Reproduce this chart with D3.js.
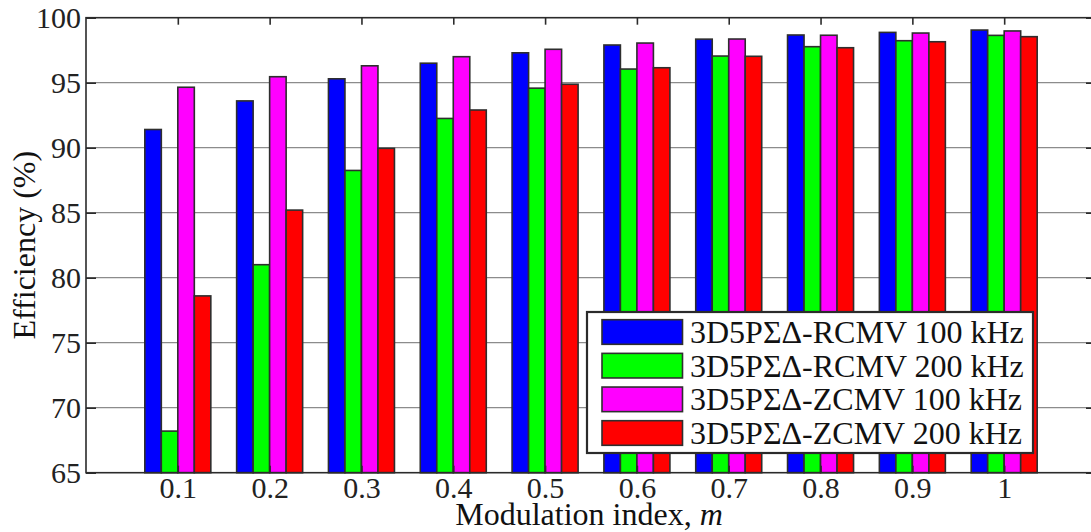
<!DOCTYPE html>
<html>
<head>
<meta charset="utf-8">
<script src="https://cdn.jsdelivr.net/npm/d3@7/dist/d3.min.js"></script>
<style>
  html, body { margin: 0; padding: 0; background: #fff; }
</style>
</head>
<body>
<svg id="chart" width="1091" height="532"></svg>
<script>
// Modulation index values (x categories)
const modIndex = [0.1, 0.2, 0.3, 0.4, 0.5, 0.6, 0.7, 0.8, 0.9, 1];
const xTickLabels = ["0.1", "0.2", "0.3", "0.4", "0.5", "0.6", "0.7", "0.8", "0.9", "1"];
const yTicks = [65, 70, 75, 80, 85, 90, 95, 100];

// Efficiency (%) for each configuration
const seriesNames = [
  "3D5PΣΔ-RCMV 100 kHz",
  "3D5PΣΔ-RCMV 200 kHz",
  "3D5PΣΔ-ZCMV 100 kHz",
  "3D5PΣΔ-ZCMV 200 kHz"
];
const rcmv100 = [91.4, 93.6, 95.3, 96.5, 97.3, 97.9, 98.35, 98.67, 98.87, 99.05];
const rcmv200 = [68.2, 81.0, 88.25, 92.25, 94.58, 96.05, 97.05, 97.77, 98.23, 98.64];
const zcmv100 = [94.65, 95.46, 96.3, 97.0, 97.57, 98.05, 98.36, 98.65, 98.82, 98.98];
const zcmv200 = [78.6, 85.2, 89.95, 92.9, 94.88, 96.15, 97.03, 97.69, 98.15, 98.54];
const seriesValues = [rcmv100, rcmv200, zcmv100, zcmv200];
const seriesColors = ["#0000ff", "#00ff00", "#ff00ff", "#ff0000"];

const svg = d3.select("#chart");
const plotLeft = 86, plotRight = 1096, plotTop = 17.7, plotBottom = 472.7;
const axisColor = "#2b2b2b";
const serif = "'Liberation Serif', 'Times New Roman', Times, serif";

const x = d3.scaleLinear().domain([0, 1.1]).range([plotLeft, plotRight]);
const y = d3.scaleLinear().domain([65, 100]).range([plotBottom, plotTop]);

const barW = 16.5;

// horizontal grid lines
svg.append("g")
  .selectAll("line")
  .data(yTicks.slice(1, -1))
  .join("line")
  .attr("x1", plotLeft).attr("x2", plotRight)
  .attr("y1", d => y(d)).attr("y2", d => y(d))
  .attr("stroke", "#8c8c8c").attr("stroke-width", 1.3);

// bars, four per modulation index
const bars = svg.append("g");
seriesValues.forEach((vals, s) => {
  bars.append("g")
    .selectAll("rect")
    .data(vals)
    .join("rect")
    .attr("x", (d, i) => x(modIndex[i]) + (s - 2) * barW)
    .attr("y", d => y(d))
    .attr("width", barW)
    .attr("height", d => y(65) - y(d))
    .attr("fill", seriesColors[s])
    .attr("stroke", "#2e2e2e")
    .attr("stroke-width", 1.6);
});

// frame
svg.append("rect")
  .attr("x", plotLeft).attr("y", plotTop)
  .attr("width", plotRight - plotLeft).attr("height", plotBottom - plotTop)
  .attr("fill", "none").attr("stroke", axisColor).attr("stroke-width", 1.6);

// y axis (left), ticks pointing inward
const yAxisL = d3.axisLeft(y).tickValues(yTicks).tickSizeInner(-10).tickSizeOuter(0).tickPadding(5);
const gy = svg.append("g").attr("transform", `translate(${plotLeft},0)`).call(yAxisL);
gy.select(".domain").remove();
gy.selectAll(".tick line").attr("stroke", axisColor).attr("stroke-width", 1.6);
gy.selectAll(".tick text").attr("fill", "#222")
  .style("font-family", serif).style("font-size", "30px");

// y ticks on the right side
const yAxisR = d3.axisRight(y).tickValues(yTicks).tickSizeInner(-10).tickSizeOuter(0).tickFormat("");
const gyr = svg.append("g").attr("transform", `translate(${plotRight},0)`).call(yAxisR);
gyr.select(".domain").remove();
gyr.selectAll(".tick line").attr("stroke", axisColor).attr("stroke-width", 1.6);

// x axis (bottom) labels
const xAxisB = d3.axisBottom(x).tickValues(modIndex)
  .tickFormat((d, i) => xTickLabels[i]).tickSizeInner(-7).tickSizeOuter(0).tickPadding(3.5);
const gx = svg.append("g").attr("transform", `translate(0,${plotBottom})`).call(xAxisB);
gx.select(".domain").remove();
gx.selectAll(".tick line").attr("stroke", axisColor).attr("stroke-width", 1.6);
gx.selectAll(".tick text").attr("fill", "#222")
  .style("font-family", serif).style("font-size", "30px");

// x ticks along the top edge
const xAxisT = d3.axisTop(x).tickValues(modIndex).tickSizeInner(-7).tickSizeOuter(0).tickFormat("");
const gxt = svg.append("g").attr("transform", `translate(0,${plotTop})`).call(xAxisT);
gxt.select(".domain").remove();
gxt.selectAll(".tick line").attr("stroke", axisColor).attr("stroke-width", 1.6);

// axis titles
const xTitle = svg.append("text")
  .attr("x", (plotLeft + plotRight) / 2 - 2).attr("y", 525)
  .attr("text-anchor", "middle").attr("fill", "#111")
  .style("font-family", serif).style("font-size", "32px");
xTitle.append("tspan").text("Modulation index, ");
xTitle.append("tspan").style("font-style", "italic").text("m");

svg.append("text")
  .attr("transform", `translate(35,${(plotTop + plotBottom) / 2}) rotate(-90)`)
  .attr("text-anchor", "middle").attr("fill", "#111")
  .style("font-family", serif).style("font-size", "32px")
  .text("Efficiency (%)");

// legend
const lg = svg.append("g").attr("transform", "translate(587,312)");
lg.append("rect")
  .attr("width", 446).attr("height", 141)
  .attr("fill", "#fff").attr("stroke", axisColor).attr("stroke-width", 2.2);
const rowY = d3.scaleLinear().domain([0, 3]).range([20, 121]);
seriesNames.forEach((name, s) => {
  lg.append("rect")
    .attr("x", 15).attr("y", rowY(s) - 12.3)
    .attr("width", 80.5).attr("height", 24.6)
    .attr("fill", seriesColors[s]).attr("stroke", "#2e2e2e").attr("stroke-width", 1.6);
  lg.append("text")
    .attr("x", 103).attr("y", rowY(s) + 11)
    .attr("fill", "#111")
    .style("font-family", serif).style("font-size", "32px")
    .text(name);
});
</script>
</body>
</html>
